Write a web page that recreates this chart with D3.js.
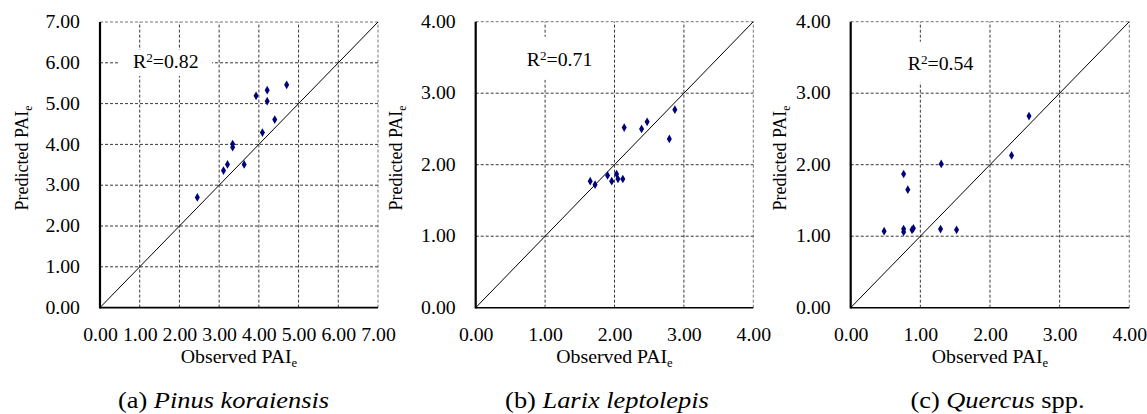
<!DOCTYPE html>
<html>
<head>
<meta charset="utf-8">
<script src="https://cdn.jsdelivr.net/npm/d3@7"></script>
<style>
  body { margin: 0; background: #fff; }
</style>
</head>
<body>
<div class="chart"></div>
<script>
// #region Data
const pinusObs  = [4.70, 4.21, 3.93, 4.21, 4.40, 4.09, 3.34, 3.34, 3.21, 3.63, 3.11, 2.45];
const pinusPred = [5.46, 5.33, 5.19, 5.06, 4.61, 4.29, 4.01, 3.93, 3.51, 3.51, 3.36, 2.70];

const larixObs  = [2.87, 2.47, 2.39, 2.14, 2.79, 1.65, 1.72, 1.90, 1.96, 2.03, 2.05, 2.12];
const larixPred = [2.77, 2.60, 2.50, 2.52, 2.36, 1.77, 1.72, 1.85, 1.77, 1.87, 1.80, 1.80];

const quercusObs  = [2.56, 2.31, 1.30, 0.76, 0.82, 0.48, 0.76, 0.76, 0.88, 0.90, 1.29, 1.52];
const quercusPred = [2.68, 2.13, 2.01, 1.87, 1.65, 1.07, 1.10, 1.06, 1.09, 1.11, 1.10, 1.09];

const pinusTicks = [0, 1, 2, 3, 4, 5, 6, 7];
const smallTicks = [0, 1, 2, 3, 4];

const r2Values = ["0.82", "0.71", "0.54"];
const panelLetters = ["(a) ", "(b) ", "(c) "];
const speciesNames = ["Pinus koraiensis", "Larix leptolepis", "Quercus"];
const speciesSuffix = ["", "", " spp."];
// #endregion

const width = 1147, height = 414;
const serif = "Liberation Serif";
const stretch = 1.1; // the source figure's text is slightly wider than Times
const svg = d3.select(".chart").append("svg")
    .attr("width", width)
    .attr("height", height)
    .style("font-family", serif);

// widen a horizontal text around its own anchor x
function widen(sel) {
    sel.each(function () {
        const t = d3.select(this);
        const ax = +t.attr("x") || 0;
        t.attr("transform", "translate(" + ax + ",0) scale(" + stretch + ",1) translate(" + (-ax) + ",0)");
    });
}

// #region Layout per panel
const panels = [
    { obs: pinusObs, pred: pinusPred, ticks: pinusTicks,
      left: 100, right: 378, top: 22, bottom: 307.6,
      r2dx: 33, r2dy: 46, box: [-13, 79, -18, 8], titleX: 223.5, yTitleX: 28 },
    { obs: larixObs, pred: larixPred, ticks: smallTicks,
      left: 475.7, right: 753.3, top: 21.7, bottom: 307.7,
      r2dx: 51, r2dy: 44, box: [-13, 79, -29, 14], titleX: 607, yTitleX: 402 },
    { obs: quercusObs, pred: quercusPred, ticks: smallTicks,
      left: 850.7, right: 1129.3, top: 21.7, bottom: 307.7,
      r2dx: 57, r2dy: 48, box: [-13, 79, -28, 13], titleX: 997.5, yTitleX: 786 }
];
// #endregion

panels.forEach((p, k) => {
    const maxV = d3.max(p.ticks);
    const x = d3.scaleLinear().domain([0, maxV]).range([p.left, p.right]);
    const y = d3.scaleLinear().domain([0, maxV]).range([p.bottom, p.top]);
    const g = svg.append("g").attr("class", "panel panel" + k);

    // #region Grid
    const grid = g.append("g").attr("class", "grid");
    grid.selectAll(".vgrid")
        .data(p.ticks.filter(t => t > 0))
        .enter()
        .append("line")
        .attr("x1", d => x(d)).attr("x2", d => x(d))
        .attr("y1", y(0)).attr("y2", y(maxV))
        .attr("stroke", d => d === maxV ? "#666" : "#222")
        .attr("stroke-width", 0.9)
        .attr("stroke-dasharray", "3,2");
    grid.selectAll(".hgrid")
        .data(p.ticks.filter(t => t > 0))
        .enter()
        .append("line")
        .attr("x1", x(0)).attr("x2", x(maxV))
        .attr("y1", d => y(d)).attr("y2", d => y(d))
        .attr("stroke", d => d === maxV ? "#666" : "#222")
        .attr("stroke-width", 0.9)
        .attr("stroke-dasharray", "3,2");
    // #endregion

    // #region R2 label
    const rx = p.left + p.r2dx, ry = p.top + p.r2dy;
    g.append("rect")
        .attr("x", rx + p.box[0])
        .attr("y", ry + p.box[2])
        .attr("width", p.box[1] - p.box[0])
        .attr("height", p.box[3] - p.box[2])
        .attr("fill", "#fff");
    const r2 = g.append("text")
        .attr("x", rx).attr("y", ry)
        .style("font-family", serif)
        .attr("font-size", 18)
        .attr("fill", "#000");
    r2.append("tspan").text("R");
    r2.append("tspan").text("2").attr("font-size", 12).attr("dy", -6);
    r2.append("tspan").text("=" + r2Values[k]).attr("dy", 6);
    widen(r2);
    // #endregion

    // 1:1 line
    g.append("line")
        .attr("x1", x(0)).attr("y1", y(0))
        .attr("x2", x(maxV)).attr("y2", y(maxV))
        .attr("stroke", "#000")
        .attr("stroke-width", 1);

    // #region Axes
    const gx = g.append("g")
        .attr("class", "xScale")
        .attr("transform", "translate(0," + p.bottom + ")")
        .call(d3.axisBottom(x).tickValues(p.ticks).tickFormat(d3.format(".2f")).tickSize(0).tickPadding(21));
    const gy = g.append("g")
        .attr("class", "yScale")
        .attr("transform", "translate(" + p.left + ",0)")
        .call(d3.axisLeft(y).tickValues(p.ticks).tickFormat(d3.format(".2f")).tickSize(0).tickPadding(20));
    [gx, gy].forEach(a => {
        a.attr("font-family", null).attr("font-size", null);
        a.select(".domain").remove();
        a.selectAll("text")
            .style("font-family", serif)
            .attr("font-size", 18)
            .attr("fill", "#000")
            .call(widen);
    });
    g.append("line")
        .attr("x1", p.left).attr("x2", p.right)
        .attr("y1", p.bottom).attr("y2", p.bottom)
        .attr("stroke", "#000").attr("stroke-width", 1.6);
    g.append("line")
        .attr("x1", p.left).attr("x2", p.left)
        .attr("y1", p.top).attr("y2", p.bottom + 0.8)
        .attr("stroke", "#000").attr("stroke-width", 2.2);
    // #endregion

    // #region Points
    g.append("g").attr("class", "points")
        .selectAll("path")
        .data(p.obs.map((d, i) => ({ o: d, pr: p.pred[i] })))
        .enter()
        .append("path")
        .attr("d", d3.symbol().type(d3.symbolDiamond).size(22))
        .attr("transform", d => "translate(" + x(d.o) + "," + y(d.pr) + ")")
        .attr("fill", "#00007a");
    // #endregion

    // #region Axis titles
    const cx = (p.left + p.right) / 2;
    const xt = g.append("text")
        .attr("x", cx).attr("y", 363)
        .attr("text-anchor", "middle")
        .style("font-family", serif)
        .attr("font-size", 18);
    xt.append("tspan").text("Observed PAI");
    xt.append("tspan").text("e").attr("font-size", 11.5).attr("dy", 4);
    widen(xt);

    const yt = g.append("text")
        .attr("transform", "translate(" + p.yTitleX + ",158) rotate(-90) scale(1," + stretch + ")")
        .attr("text-anchor", "middle")
        .style("font-family", serif)
        .attr("font-size", 18);
    yt.append("tspan").text("Predicted PAI");
    yt.append("tspan").text("e").attr("font-size", 11.5).attr("dy", 4);

    const tt = g.append("text")
        .attr("x", p.titleX).attr("y", 408)
        .attr("text-anchor", "middle")
        .style("font-family", serif)
        .attr("font-size", 24);
    tt.append("tspan").text(panelLetters[k]);
    tt.append("tspan").text(speciesNames[k]).attr("font-style", "italic");
    if (speciesSuffix[k]) tt.append("tspan").text(speciesSuffix[k]);
    widen(tt);
    // #endregion
});
</script>
</body>
</html>
